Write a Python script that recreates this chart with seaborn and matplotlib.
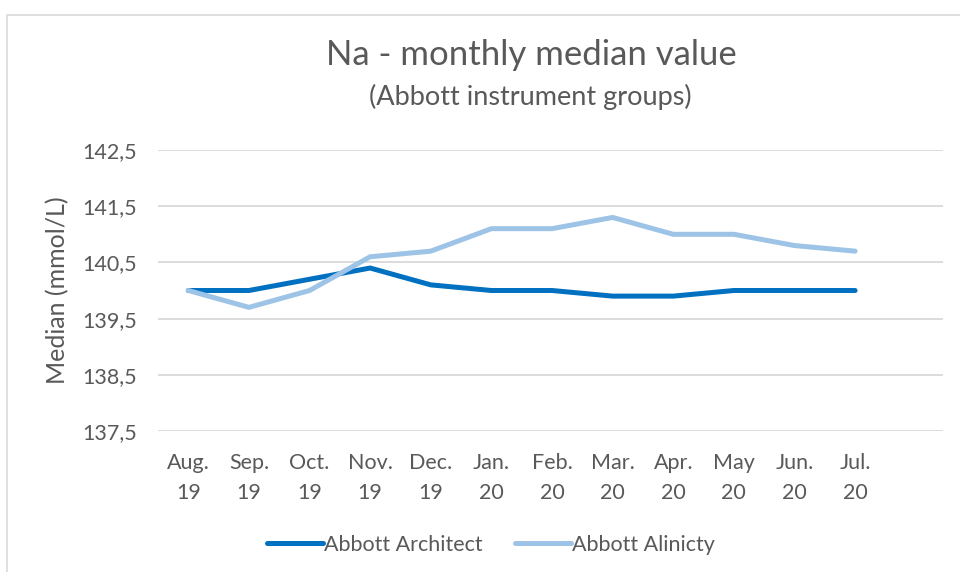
import matplotlib
matplotlib.use('Agg')
import matplotlib.pyplot as plt
from matplotlib.patches import Rectangle
import pandas as pd
import seaborn as sns

months = ['Aug.\n19', 'Sep.\n19', 'Oct.\n19', 'Nov.\n19', 'Dec.\n19', 'Jan.\n20',
          'Feb.\n20', 'Mar.\n20', 'Apr.\n20', 'May\n20', 'Jun.\n20', 'Jul.\n20']
architect = [140.0, 140.0, 140.2, 140.4, 140.1, 140.0,
             140.0, 139.9, 139.9, 140.0, 140.0, 140.0]
alinity = [140.0, 139.7, 140.0, 140.6, 140.7, 141.1,
           141.1, 141.3, 141.0, 141.0, 140.8, 140.7]
series_names = ['Abbott Architect', 'Abbott Alinicty']
y_ticks = [137.5, 138.5, 139.5, 140.5, 141.5, 142.5]

sns.set_style('white')
plt.rcParams['font.family'] = ['Lato', 'DejaVu Sans']
text_color = '#595959'

df = pd.DataFrame({
    'month': months + months,
    'value': architect + alinity,
    'series': [series_names[0]] * len(months) + [series_names[1]] * len(months),
})

fig = plt.figure(figsize=(9.6, 5.72), dpi=100)
ax = fig.add_axes([158 / 960, 1 - 431 / 572, (943 - 158) / 960, (431 - 150) / 572])

sns.lineplot(data=df, x='month', y='value', hue='series', sort=False,
             palette=['#0070C0', '#9DC3E6'], linewidth=3.6, ax=ax,
             solid_capstyle='round', legend=True)

ax.set_xlim(-0.5, 12.45)
ax.set_ylim(137.5, 142.5)
ax.set_yticks(y_ticks)
ax.set_yticklabels([f'{v:.1f}'.replace('.', ',') for v in y_ticks])
ax.yaxis.grid(True, color='#d9d9d9', linewidth=1.3)
ax.set_axisbelow(True)
for spine in ax.spines.values():
    spine.set_visible(False)
ax.tick_params(axis='both', length=0, labelsize=15.5, colors=text_color)
ax.tick_params(axis='y', pad=15)
ax.tick_params(axis='x', pad=16)
for lbl in ax.get_xticklabels():
    lbl.set_linespacing(1.58)
ax.set_xlabel('')
ax.set_ylabel('Median (mmol/L)', fontsize=18, color=text_color)
ax.yaxis.set_label_coords((58 - 158) / 785, 0.5)
ax.yaxis.label.set_va('center')

handles, labels = ax.get_legend_handles_labels()
ax.get_legend().remove()
fig.legend(handles, labels, loc='center', bbox_to_anchor=(491 / 960, 1 - 545 / 572),
           ncol=2, frameon=False, fontsize=15.5, handlelength=2.6,
           handletextpad=0.05, columnspacing=1.5, labelcolor=text_color)

fig.text(531 / 960, 1 - 55 / 572, 'Na - monthly median value', ha='center',
         va='center', fontsize=25, color=text_color)
fig.text(530 / 960, 1 - 97 / 572, '(Abbott instrument groups)', ha='center',
         va='center', fontsize=19.5, color=text_color)

fig.patches.append(Rectangle((7 / 960, -0.1), 1.2, 1 - 15 / 572 + 0.1,
                             transform=fig.transFigure, fill=False,
                             edgecolor='#d9d9d9', linewidth=1.2))

fig.savefig('out.png', dpi=100)
